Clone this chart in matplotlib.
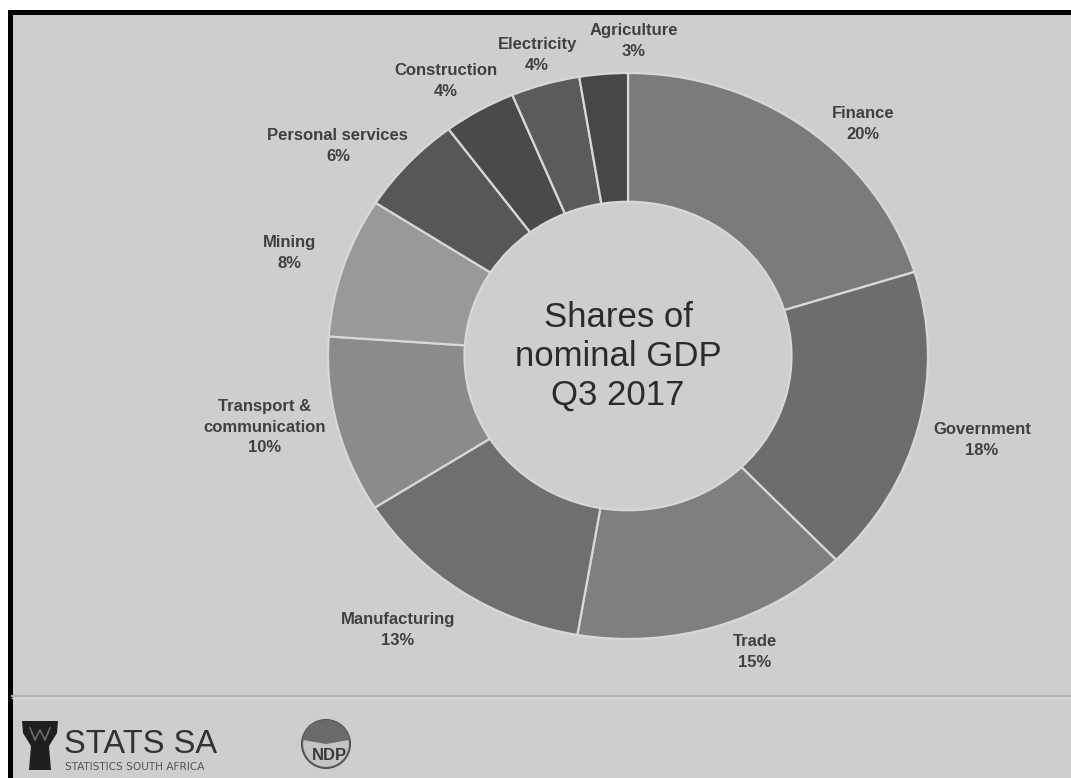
import matplotlib
matplotlib.use("Agg")
import matplotlib.pyplot as plt
from matplotlib.patches import Rectangle, Polygon, Circle, Wedge

# ---- data ----
sectors = ["Finance", "Government", "Trade", "Manufacturing",
           "Transport &\ncommunication", "Mining", "Personal services",
           "Construction", "Electricity", "Agriculture"]
shares = [20.2, 17.6, 14.9, 13.3, 10.1, 8.0, 5.7, 3.9, 3.7, 2.6]
shown_pct = [20, 18, 15, 13, 10, 8, 6, 4, 4, 3]
center_title = "Shares of\nnominal GDP\nQ3 2017"

# ---- style ----
colors = ["#7b7b7b", "#6d6d6d", "#7f7f7f", "#6f6f6f", "#8b8b8b",
          "#999999", "#575757", "#4a4a4a", "#5b5b5b", "#474747"]
# label positions (normalised donut coordinates)
label_pos = [(0.783, 0.820), (1.180, -0.297), (0.423, -1.046),
             (-0.767, -0.968), (-1.21, -0.251), (-1.127, 0.364),
             (-0.967, 0.742), (-0.607, 0.972), (-0.303, 1.064),
             (0.02, 1.113)]

W, H = 1071, 778
fig = plt.figure(figsize=(W / 100, H / 100), dpi=100)
fig.patch.set_facecolor("white")

bg = fig.add_axes([0, 0, 1, 1])
bg.set_xlim(0, W)
bg.set_ylim(H, 0)
bg.axis("off")
bg.add_patch(Rectangle((12, 15), W - 12, H - 15, facecolor="#cecece", edgecolor="none"))
bg.add_patch(Rectangle((8, 10), W - 8, 5, facecolor="black", edgecolor="none"))
bg.add_patch(Rectangle((8, 10), 4.5, H - 10, facecolor="black", edgecolor="none"))
bg.plot([12, W], [696, 696], color="#b3b3b3", lw=1.6)
bg.plot([12, W], [698, 698], color="#dadada", lw=1.0)

# STATS SA logo
drum = Polygon([(22, 721), (58, 721), (57, 733), (49, 746), (51, 770),
                (29, 770), (31, 746), (23, 733)], closed=True,
               facecolor="#1f1f1f", edgecolor="none")
bg.add_patch(drum)
bg.plot([30, 35, 40, 45, 50], [728, 740, 730, 740, 728], color="#6a6a6a", lw=1.2)
bg.text(64, 753, "STATS SA", fontsize=23.5, color="#333333",
        family="Liberation Sans", ha="left", va="baseline")
bg.text(65, 770, "STATISTICS SOUTH AFRICA", fontsize=7.6, color="#555555",
        family="Liberation Sans Narrow", ha="left", va="baseline")

# NDP logo
bg.add_patch(Circle((326, 744), 24, facecolor="#c4c4c4", edgecolor="#555555", lw=1.5))
bg.add_patch(Wedge((326, 744), 24, 190, 350, facecolor="#6a6a6a", edgecolor="none"))
bg.text(329, 760, "NDP", fontsize=12, fontweight="bold", color="#3a3a3a",
        family="Liberation Sans", ha="center", va="baseline")

# ---- donut ----
cx, cy, rx, ry = 628, 356, 300, 283
ax = fig.add_axes([(cx - rx) / W, (H - cy - ry) / H, 2 * rx / W, 2 * ry / H])
ax.patch.set_alpha(0)
wedges, _ = ax.pie(shares, startangle=90, counterclock=False, colors=colors,
                   radius=1.0,
                   wedgeprops=dict(width=0.455, edgecolor="#d8d8d8", linewidth=1.6))
ax.set_aspect("auto")
ax.set_xlim(-1, 1)
ax.set_ylim(-1, 1)
ax.axis("off")

for name, pct, (x, y) in zip(sectors, shown_pct, label_pos):
    ax.text(x, y, f"{name}\n{pct}%", ha="center", va="center",
            fontsize=12, fontweight="bold", color="#404040",
            family="Liberation Sans", linespacing=1.45, clip_on=False)

ax.text(-0.033, 0.0, center_title, ha="center", va="center", fontsize=25,
        color="#2b2b2b", family="Liberation Sans", linespacing=1.22)

fig.savefig("out.png", dpi=100, facecolor=fig.get_facecolor())
